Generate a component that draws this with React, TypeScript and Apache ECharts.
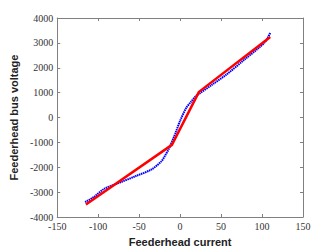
import React, { useEffect, useRef } from "react";
import * as echarts from "echarts";

const xTicks = [-150, -100, -50, 0, 50, 100, 150];
const yTicks = [-4000, -3000, -2000, -1000, 0, 1000, 2000, 3000, 4000];

const blueCurrent = [-116, -105, -93, -73.5, -54, -35, -23, -19, -13.5, -6, 0, 7.6, 13, 19, 23, 38.5, 58, 77, 96.5, 104, 110];
const blueVoltage = [-3400, -3190, -2875, -2616, -2353, -2090, -1765, -1570, -1240, -655, -130, 392, 620, 851, 950, 1306, 1765, 2286, 2812, 3050, 3400];

const redCurrent = [-115, -10, 23, 110];
const redVoltage = [-3500, -1100, 1030, 3240];

const xName = "Feederhead current";
const yName = "Feederhead bus voltage";

export default function App() {
  const ref = useRef<HTMLDivElement>(null);
  useEffect(() => {
    if (!ref.current) return;
    const chart = echarts.init(ref.current, undefined, { renderer: "svg" });
    const axisColor = "#808080";
    const tickFont = { fontFamily: "Liberation Serif", fontSize: 10, color: "#333" };
    const common = {
      axisLine: { show: true, onZero: false, lineStyle: { color: axisColor, width: 1 } },
      axisTick: { show: true, inside: true, length: 3, lineStyle: { color: axisColor } },
      splitLine: { show: false },
    };
    chart.setOption({
      animation: false,
      backgroundColor: "#fff",
      grid: { left: 44, right: 32, top: 18, bottom: 30 },
      xAxis: [
        {
          type: "value",
          min: -150,
          max: 150,
          interval: 50,
          position: "bottom",
          ...common,
          axisLabel: { ...tickFont, margin: 4, formatter: (v: number) => (xTicks.includes(v) ? String(v) : "") },
          name: xName,
          nameLocation: "middle",
          nameGap: 19,
          nameTextStyle: { fontFamily: "Liberation Sans", fontWeight: "bold", fontSize: 11, color: "#222" },
        },
        {
          type: "value",
          min: -150,
          max: 150,
          interval: 50,
          position: "top",
          ...common,
          axisLabel: { show: false },
        },
      ],
      yAxis: [
        {
          type: "value",
          min: -4000,
          max: 4000,
          interval: 1000,
          position: "left",
          ...common,
          axisLabel: { ...tickFont, margin: 4, formatter: (v: number) => (yTicks.includes(v) ? String(v) : "") },
          name: yName,
          nameLocation: "middle",
          nameGap: 34,
          nameRotate: 90,
          nameTextStyle: { fontFamily: "Liberation Sans", fontWeight: "bold", fontSize: 11, color: "#222" },
        },
        {
          type: "value",
          min: -4000,
          max: 4000,
          interval: 1000,
          position: "right",
          ...common,
          axisLabel: { show: false },
        },
      ],
      series: [
        {
          type: "line",
          data: blueCurrent.map((x, i) => [x, blueVoltage[i]]),
          symbol: "none",
          smooth: 0.3,
          lineStyle: { color: "#0000ff", width: 2, type: [1.5, 0.6] },
          z: 2,
        },
        {
          type: "line",
          data: redCurrent.map((x, i) => [x, redVoltage[i]]),
          symbol: "none",
          lineStyle: { color: "#ff0000", width: 2.5 },
          z: 3,
        },
      ],
    });
    return () => chart.dispose();
  }, []);
  return <div ref={ref} style={{ position: "fixed", left: 0, top: 0, width: 335, height: 252 }} />;
}
